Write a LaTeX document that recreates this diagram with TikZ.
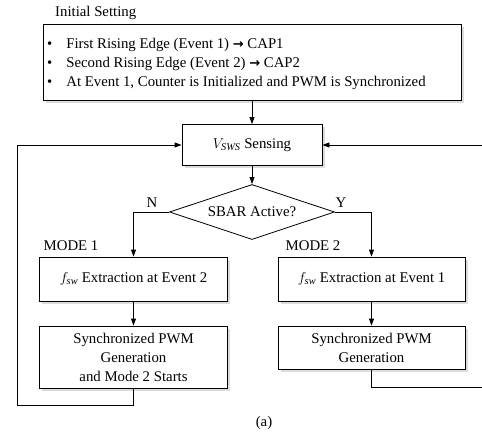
\documentclass[tikz,border=0pt]{standalone}
\usepackage{fontspec}
\setmainfont{Liberation Serif}
\newfontfamily\arrowfont{DejaVu Sans}
\usetikzlibrary{shapes.geometric,arrows.meta,shadows}
\newcommand{\thickarrow}{{\arrowfont\bfseries\fontsize{13}{19}\selectfont →}}
\begin{document}
\begin{tikzpicture}[x=1pt,y=-1pt,
  every node/.style={font=\fontsize{14.8}{19}\selectfont},
  box/.style={draw, line width=0.8pt, fill=white, rectangle, inner sep=0pt, align=center,
    drop shadow={shadow xshift=2.5pt, shadow yshift=-2.5pt, fill=gray!55}},
  arr/.style={line width=0.8pt, -{Triangle[length=7pt,width=5pt]}},
  lbl/.style={inner sep=0pt}
]
\useasboundingbox (0,0) rectangle (482,439);

\node[lbl, anchor=west] (title) at (55,13) {Initial Setting};

\node[box, minimum width=418, minimum height=76] (init) at (252,62) {};
\node[lbl, anchor=west, align=left] (initxt) at (47,64) {%
  \begin{tabular}{@{}l@{\hspace{14pt}}l@{}}
  \textbullet & First Rising Edge (Event 1) \thickarrow\ CAP1\\
  \textbullet & Second Rising Edge (Event 2) \thickarrow\ CAP2\\
  \textbullet & At Event 1, Counter is Initialized and PWM is Synchronized
  \end{tabular}};

\node[box, minimum width=140, minimum height=41] (sense) at (252,145) {$V_{\mathit{SWS}}$ Sensing};

\node[draw, line width=0.8pt, fill=white, diamond, shape aspect=3, inner sep=0pt,
  minimum width=165, minimum height=55] (dec) at (252,212) {SBAR Active?};

\node[box, minimum width=188, minimum height=44] (m1) at (133.5,279) {$f_{\mathit{sw}}$ Extraction at Event 2};
\node[box, minimum width=187, minimum height=44] (m2) at (371.5,279) {$f_{\mathit{sw}}$ Extraction at Event 1};
\node[box, minimum width=188, minimum height=62] (p1) at (133.5,357) {Synchronized PWM\\Generation\\and Mode 2 Starts};
\node[box, minimum width=187, minimum height=43] (p2) at (371.5,347.5) {Synchronized PWM\\Generation};

\node[lbl] (nlab) at (152,203) {N};
\node[lbl] (ylab) at (341,203) {Y};
\node[lbl] (mode1) at (71,246) {MODE 1};
\node[lbl] (mode2) at (313,246) {MODE 2};
\node[lbl] (cap) at (264,423) {(a)};

\coordinate (lb) at (17,405);
\coordinate (rb) at (484,387);

\draw[arr] (init.south) -- (sense.north);
\draw[arr] (sense.south) -- (dec.north);
\draw[arr] (dec.west) -| (m1.north);
\draw[arr] (dec.east) -| (m2.north);
\draw[arr] (m1.south) -- (p1.north);
\draw[arr] (m2.south) -- (p2.north);
\draw[arr] (p1.south) |- (lb) |- (sense.west);
\draw[arr] (p2.south) |- (rb) |- (sense.east);
\end{tikzpicture}
\end{document}
